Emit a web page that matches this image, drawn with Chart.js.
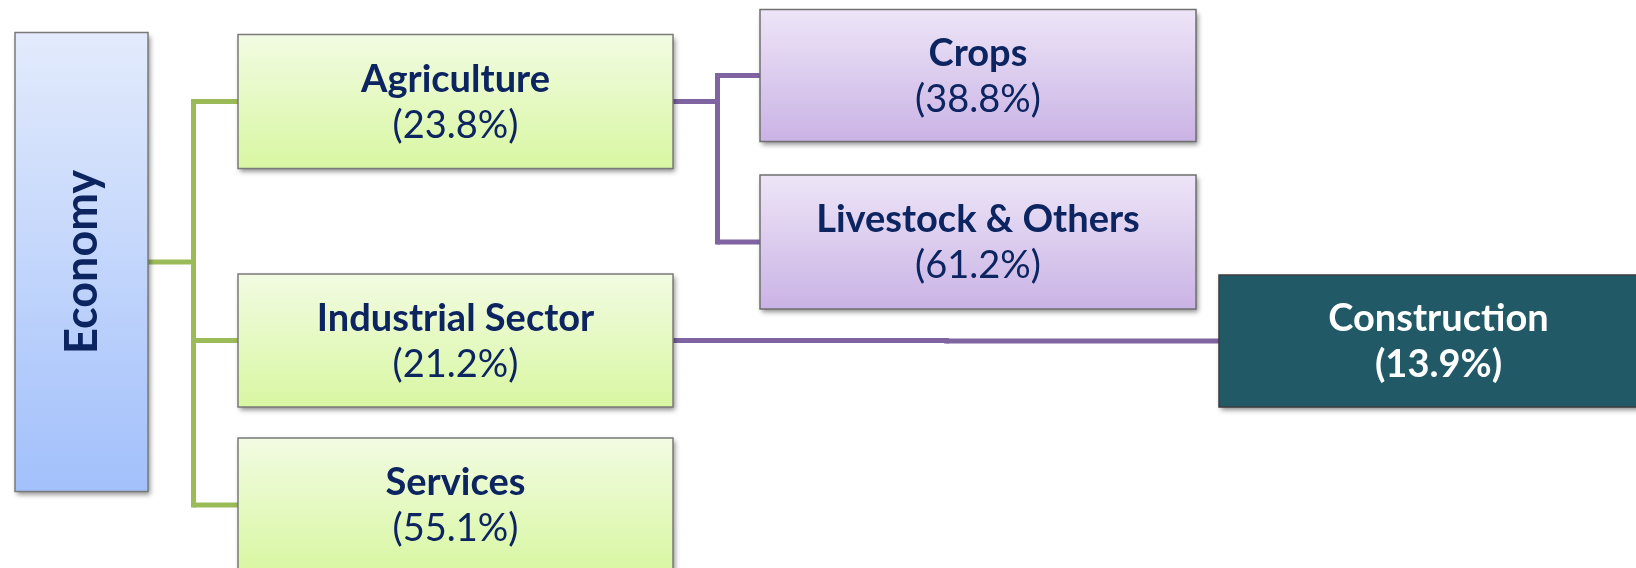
<!DOCTYPE html>
<html>
<head>
<meta charset="utf-8">
<script src="https://cdn.jsdelivr.net/npm/chart.js@4.4.1/dist/chart.umd.min.js"></script>
<style>
  html, body { margin: 0; padding: 0; background: #ffffff; }
  #wrap { width: 1636px; height: 568px; position: relative; }
</style>
</head>
<body>
<div id="wrap"><canvas id="c"></canvas></div>
<script>
// ---- DATA ----
const nodeNames   = ['Economy', 'Agriculture', 'Industrial Sector', 'Services', 'Crops', 'Livestock & Others', 'Construction'];
const nodeShares  = [null, 23.8, 21.2, 55.1, 38.8, 61.2, 13.9];
const nodeParents = [-1, 0, 0, 0, 1, 1, 2];

// ---- LAYOUT (axis units) ----
const columnSpans   = [[15, 148], [238, 673], [760, 1196], [1219, 1658]];
const nodeColumn    = [0, 1, 1, 1, 2, 2, 3];
const nodeCenterY   = [262, 101.5, 340.5, 505, 75.5, 242, 341];
const nodeHeight    = [459, 134, 133, 134, 132, 134, 132];
const nodeStyleKey  = ['root', 'sector', 'sector', 'sector', 'sub', 'sub', 'highlight'];

// ---- STYLES ----
const styles = {
  root:      { top: '#e3ebfc', bottom: '#a2c0fb', border: '#7a7a7a', text: '#0c2460', line: '#9bbb59' },
  sector:    { top: '#f2fbe2', bottom: '#d8f7a2', border: '#7a7a7a', text: '#0c2460', line: '#8064a2' },
  sub:       { top: '#ede5f7', bottom: '#cab3e5', border: '#6f6f6f', text: '#0c2460', line: '#8064a2' },
  highlight: { top: '#215967', bottom: '#215967', border: '#3d3d3d', text: '#ffffff', line: '#8064a2' }
};
const FONT = 'Lato, "Open Sans", sans-serif';

const points = nodeNames.map((n, i) => ({
  x: (columnSpans[nodeColumn[i]][0] + columnSpans[nodeColumn[i]][1]) / 2,
  y: nodeCenterY[i]
}));

const treePlugin = {
  id: 'tree',
  afterDatasetsDraw(chart) {
    const ctx = chart.ctx;
    const xs = chart.scales.x, ys = chart.scales.y;
    const box = i => {
      const span = columnSpans[nodeColumn[i]];
      const l = xs.getPixelForValue(span[0]), r = xs.getPixelForValue(span[1]);
      const t = ys.getPixelForValue(nodeCenterY[i] - nodeHeight[i] / 2);
      const b = ys.getPixelForValue(nodeCenterY[i] + nodeHeight[i] / 2);
      return { l, r, t, b, cy: ys.getPixelForValue(nodeCenterY[i]), cx: (l + r) / 2 };
    };
    // connectors
    nodeNames.forEach((_, p) => {
      const kids = nodeParents.map((par, k) => par === p ? k : -1).filter(k => k >= 0);
      if (!kids.length) return;
      const pb = box(p);
      const firstKid = box(kids[0]);
      const midX = Math.round((pb.r + firstKid.l) / 2) + 0.5;
      ctx.save();
      ctx.strokeStyle = styles[nodeStyleKey[p]].line;
      ctx.lineWidth = 5;
      ctx.lineCap = 'butt';
      ctx.lineJoin = 'miter';
      ctx.beginPath();
      ctx.moveTo(pb.r, pb.cy);
      ctx.lineTo(midX, pb.cy);
      ctx.stroke();
      const ysAll = kids.map(k => box(k).cy).concat([pb.cy]);
      ctx.beginPath();
      ctx.moveTo(midX, Math.min(...ysAll) - 2.5);
      ctx.lineTo(midX, Math.max(...ysAll) + 2.5);
      ctx.stroke();
      kids.forEach(k => {
        const kb = box(k);
        ctx.beginPath();
        ctx.moveTo(midX, kb.cy);
        ctx.lineTo(kb.l, kb.cy);
        ctx.stroke();
      });
      ctx.restore();
    });
    // boxes
    nodeNames.forEach((name, i) => {
      const st = styles[nodeStyleKey[i]];
      const b = box(i);
      ctx.save();
      const g = ctx.createLinearGradient(0, b.t, 0, b.b);
      g.addColorStop(0, st.top);
      g.addColorStop(1, st.bottom);
      ctx.shadowColor = 'rgba(0,0,0,0.45)';
      ctx.shadowBlur = 5;
      ctx.shadowOffsetX = 2;
      ctx.shadowOffsetY = 3;
      ctx.fillStyle = g;
      ctx.fillRect(b.l, b.t, b.r - b.l, b.b - b.t);
      ctx.shadowColor = 'transparent';
      ctx.strokeStyle = st.border;
      ctx.lineWidth = 1.5;
      ctx.strokeRect(b.l, b.t, b.r - b.l, b.b - b.t);
      ctx.fillStyle = st.text;
      ctx.textAlign = 'center';
      ctx.textBaseline = 'alphabetic';
      if (nodeShares[i] === null) {
        ctx.translate(b.cx, b.cy);
        ctx.rotate(-Math.PI / 2);
        ctx.font = 'bold 45px ' + FONT;
        ctx.fillText(name, 0, 15);
      } else {
        ctx.font = 'bold 38px ' + FONT;
        ctx.fillText(name, b.cx, b.cy - 10);
        ctx.font = (nodeStyleKey[i] === 'highlight' ? 'bold ' : '') + '38px ' + FONT;
        ctx.fillText('(' + nodeShares[i].toFixed(1) + '%)', b.cx, b.cy + 36);
      }
      ctx.restore();
    });
  }
};

new Chart(document.getElementById('c'), {
  type: 'scatter',
  data: {
    datasets: [{
      label: 'Economy structure',
      data: points,
      pointRadius: 0,
      pointHoverRadius: 0
    }]
  },
  options: {
    responsive: true,
    maintainAspectRatio: false,
    animation: false,
    layout: { padding: 0 },
    plugins: { legend: { display: false }, tooltip: { enabled: false } },
    scales: {
      x: { type: 'linear', min: 0, max: 1636, display: false },
      y: { type: 'linear', min: 0, max: 568, reverse: true, display: false }
    }
  },
  plugins: [treePlugin]
});
</script>
</body>
</html>
